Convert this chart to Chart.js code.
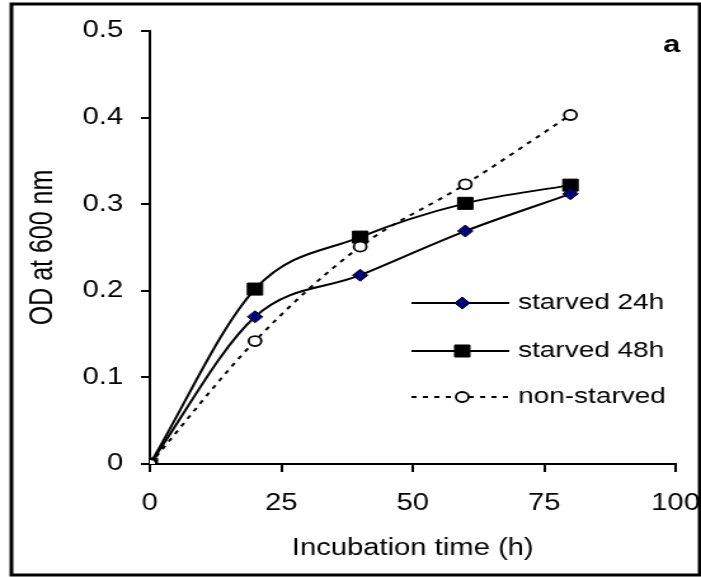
<!DOCTYPE html>
<html>
<head>
<meta charset="utf-8">
<title>OD at 600 nm</title>
<script src="https://cdn.jsdelivr.net/npm/chart.js@4"></script>
<style>
    html, body { margin: 0; padding: 0; background: #ffffff; overflow: hidden; }
    #growthChart { display: block; width: 701px !important; height: 577px !important; }
</style>
</head>
<body>
<canvas id="growthChart" width="552" height="577"></canvas>
<script>
    const hours = [0, 20, 40, 60, 80];
    const starved24 = [0, 0.17, 0.218, 0.269, 0.312];
    const starved48 = [0, 0.202, 0.262, 0.301, 0.322];
    const nonStarved = [0, 0.142, 0.251, 0.323, 0.403];
    const seriesNames = ['starved 24h', 'starved 48h', 'non-starved'];
    const xTicks = [0, 25, 50, 75, 100];
    const yTicks = [0, 0.1, 0.2, 0.3, 0.4, 0.5];

    const fontFamily = '"Liberation Sans", Arial, sans-serif';
    const toPoints = (values) => values.map((v, i) => ({ x: hours[i], y: v }));

    // frame, panel letter and the in-plot legend (line + marker + label)
    const framePlugin = {
        id: 'framePlugin',
        afterDraw(chart) {
            const ctx = chart.ctx;
            ctx.save();
            ctx.strokeStyle = '#000';
            ctx.lineWidth = 3;
            ctx.strokeRect(9, 4, 542, 571);

            ctx.fillStyle = '#000';
            ctx.font = `bold 24px ${fontFamily}`;
            ctx.textAlign = 'center';
            ctx.textBaseline = 'alphabetic';
            ctx.fillText('a', 529, 52);

            const rows = [303, 351, 397];
            chart.data.datasets.forEach((ds, i) => {
                const y = rows[i];
                ctx.save();
                ctx.strokeStyle = ds.borderColor;
                ctx.lineWidth = ds.borderWidth;
                ctx.setLineDash(ds.borderDash || []);
                ctx.beginPath();
                ctx.moveTo(324, y);
                ctx.lineTo(401, y);
                ctx.stroke();
                ctx.restore();

                ctx.save();
                ctx.fillStyle = ds.pointBackgroundColor;
                ctx.strokeStyle = ds.pointBorderColor;
                ctx.lineWidth = ds.pointBorderWidth;
                Chart.helpers.drawPoint(ctx, {
                    pointStyle: ds.pointStyle,
                    radius: ds.pointRadius,
                    borderWidth: ds.pointBorderWidth,
                    rotation: 0,
                }, 364, y);
                ctx.restore();

                ctx.fillStyle = '#000';
                ctx.font = `22px ${fontFamily}`;
                ctx.textAlign = 'left';
                ctx.textBaseline = 'middle';
                ctx.fillText(ds.label, 408, y);
            });
            ctx.restore();
        },
    };

    const axisLine = { display: true, color: '#000', width: 2 };
    const tickMarks = (len) => ({
        display: true,
        drawOnChartArea: false,
        drawTicks: true,
        tickLength: len,
        color: '#000',
        lineWidth: 2,
    });

    new Chart(document.getElementById('growthChart'), {
        type: 'line',
        data: {
            datasets: [
                {
                    label: seriesNames[0],
                    data: toPoints(starved24),
                    borderColor: '#000',
                    borderWidth: 2,
                    cubicInterpolationMode: 'monotone',
                    pointStyle: 'rectRot',
                    pointRadius: 6,
                    pointBackgroundColor: '#000080',
                    pointBorderColor: '#000',
                    pointBorderWidth: 1,
                    order: 1,
                },
                {
                    label: seriesNames[1],
                    data: toPoints(starved48),
                    borderColor: '#000',
                    borderWidth: 2,
                    cubicInterpolationMode: 'monotone',
                    pointStyle: 'rect',
                    pointRadius: 8.5,
                    pointBackgroundColor: '#000',
                    pointBorderColor: '#000',
                    pointBorderWidth: 1,
                    order: 2,
                },
                {
                    label: seriesNames[2],
                    data: toPoints(nonStarved),
                    borderColor: '#000',
                    borderWidth: 2,
                    borderDash: [4, 5],
                    cubicInterpolationMode: 'monotone',
                    pointStyle: 'circle',
                    pointRadius: 5,
                    pointBackgroundColor: '#fff',
                    pointBorderColor: '#000',
                    pointBorderWidth: 1.8,
                    order: 0,
                },
            ],
        },
        options: {
            responsive: false,
            devicePixelRatio: 1,
            animation: false,
            events: [],
            layout: { padding: { left: 0, top: 31, right: 20, bottom: 0 } },
            plugins: {
                legend: { display: false },
                tooltip: { enabled: false },
            },
            scales: {
                x: {
                    type: 'linear',
                    min: 0,
                    max: 100,
                    afterBuildTicks: (scale) => { scale.ticks = xTicks.map((value) => ({ value })); },
                    afterFit: (scale) => {
                        // keep the "100" label hanging past the plot edge like the frame allows
                        scale.height = 113;
                        scale.paddingLeft = 0;
                        scale.paddingRight = 0;
                    },
                    grid: tickMarks(8),
                    border: axisLine,
                    ticks: {
                        color: '#000',
                        font: { family: fontFamily, size: 23 },
                        padding: 18,
                        maxRotation: 0,
                        autoSkip: false,
                    },
                    title: {
                        display: true,
                        text: 'Incubation time (h)',
                        color: '#000',
                        font: { family: fontFamily, size: 23 },
                        padding: { top: 0, bottom: 14.7 },
                    },
                },
                y: {
                    type: 'linear',
                    min: 0,
                    max: 0.5,
                    afterBuildTicks: (scale) => { scale.ticks = yTicks.map((value) => ({ value })); },
                    afterFit: (scale) => { scale.width = 118; },
                    grid: tickMarks(7),
                    border: axisLine,
                    ticks: {
                        color: '#000',
                        font: { family: fontFamily, size: 23 },
                        padding: 14,
                        callback: (value) => String(value),
                    },
                    title: {
                        display: true,
                        text: 'OD at 600 nm',
                        color: '#000',
                        font: { family: fontFamily, size: 25 },
                        padding: { top: 19, bottom: 0 },
                    },
                },
            },
        },
        plugins: [framePlugin],
    });
</script>
</body>
</html>
